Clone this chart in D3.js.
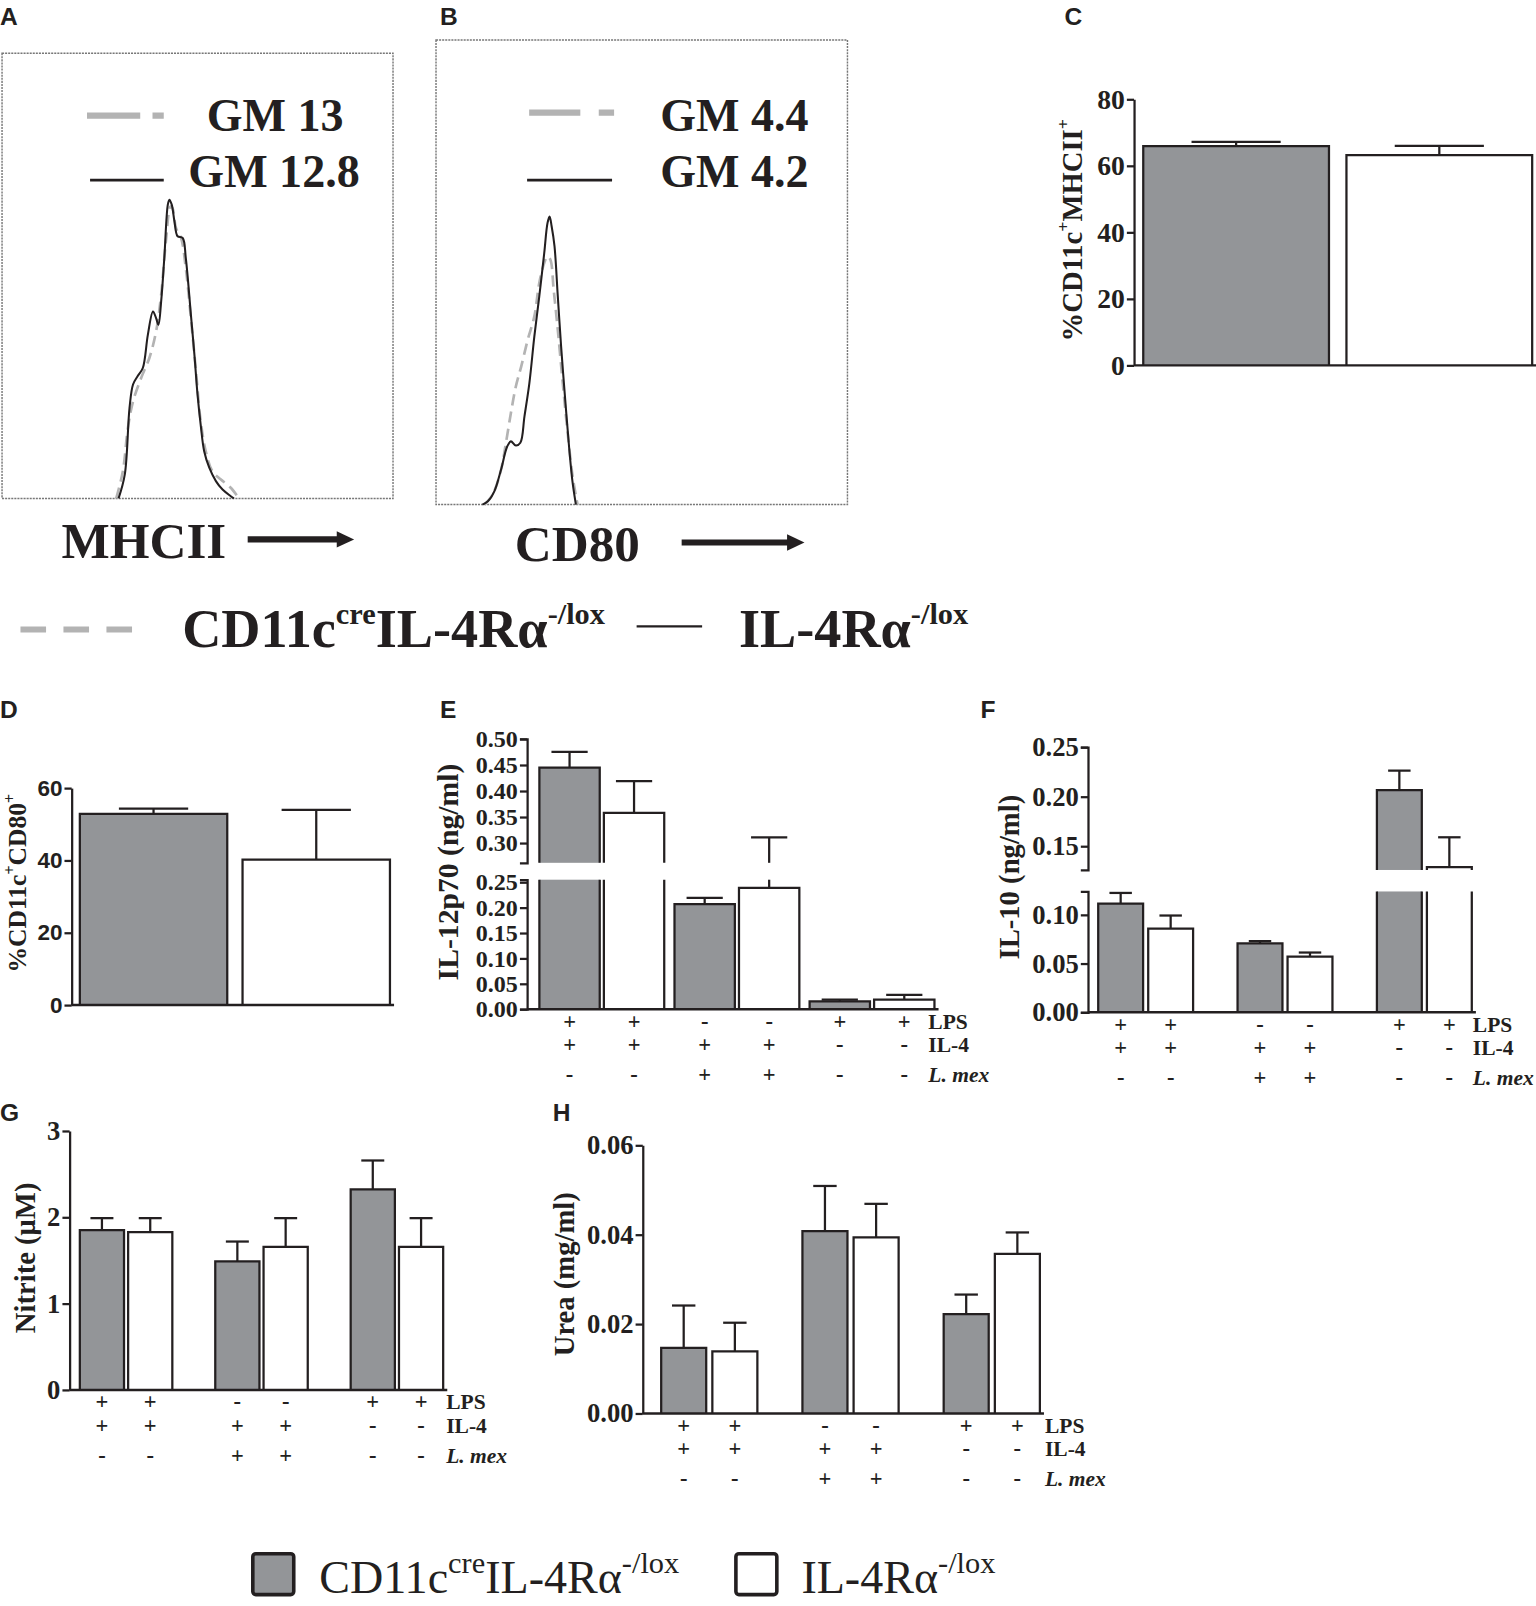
<!DOCTYPE html>
<html>
<head>
<meta charset="utf-8">
<script src="https://cdn.jsdelivr.net/npm/d3@7"></script>
<style>
  body { margin: 0; background: #fff; }
</style>
</head>
<body>
<svg id="fig"></svg>
<script>
// ---------------- data ----------------
// flow histograms: [channel (0-100 of plot width), % of plot height]
const histMHCII_cre = [[29.2,0],[30.9,6.1],[32.2,15.9],[33.5,21.8],[35.6,27.1],[37.7,31.6],[39.4,37.5],[40.7,45.8],[41.9,57.7],[43.1,65.6],[43.6,65.2],[44.5,60.7],[45.8,58.5],[47.0,51.7],[48.3,40.5],[49.6,28.6],[50.8,17.4],[52.1,10.6],[53.8,6.1],[55.9,4.3],[58.5,2.4],[60.6,0]];
const histMHCII_wt = [[29.8,0],[31.4,5.4],[32.6,20.3],[33.5,25.6],[34.7,27.5],[36.0,29.3],[37.3,36.8],[38.6,42.0],[39.4,40.5],[40.0,39.0],[40.7,44.3],[41.5,54.0],[42.4,66.0],[42.8,67.1],[43.4,66.0],[44.1,62.2],[44.9,58.9],[46.2,58.5],[47.0,54.0],[48.3,41.3],[49.2,32.3],[50.0,23.3],[50.8,16.6],[51.7,10.6],[53.0,6.9],[54.7,3.9],[56.4,2.0],[58.5,0.5],[59.3,0]];
const histCD80_cre = [[11.8,0],[13.8,2.2],[15.8,7.5],[17.0,13.3],[18.2,19.7],[19.4,25.4],[20.7,29.7],[22.3,35.5],[23.9,40.5],[25.1,47.7],[26.3,52.0],[27.1,53.4],[27.8,52.7],[28.6,46.2],[29.6,37.6],[30.8,26.2],[32.0,15.4],[33.2,6.1],[34.4,0]];
const histCD80_wt = [[11.3,0],[12.6,0.7],[14.2,2.9],[15.8,7.5],[17.3,12.5],[18.2,13.6],[19.4,12.7],[20.5,13.3],[21.5,19.0],[22.7,26.2],[23.9,36.2],[25.1,44.8],[26.3,54.1],[27.1,60.6],[27.6,62.0],[28.1,59.9],[28.8,55.6],[29.6,44.8],[30.4,34.1],[31.4,22.6],[32.4,11.8],[33.2,4.7],[34.0,0]];
const gmMHCII = ["GM 13", "GM 12.8"];
const gmCD80 = ["GM 4.4", "GM 4.2"];

// bar charts: order = CD11c-cre IL-4Ra-/lox, IL-4Ra-/lox (per condition)
const mhciiMean = [65.9, 63.2];
const mhciiSem  = [1.3, 2.8];
const cd80Mean  = [52.9, 40.2];
const cd80Sem   = [1.4, 13.8];
const il12Mean  = [0.445, 0.358, 0.207, 0.239, 0.0155, 0.019];
const il12Sem   = [0.030, 0.061, 0.012, 0.072, 0.0035, 0.009];
const il10Mean  = [0.1115, 0.0859, 0.0707, 0.0572, 0.2066, 0.129];
const il10Sem   = [0.011, 0.0134, 0.0023, 0.0041, 0.0197, 0.030];
const nitriteMean = [1.851, 1.828, 1.49, 1.657, 2.324, 1.657];
const nitriteSem  = [0.139, 0.162, 0.229, 0.333, 0.334, 0.333];
const ureaMean  = [0.01465, 0.0139, 0.0408, 0.0394, 0.0222, 0.0357];
const ureaSem   = [0.0095, 0.0064, 0.0101, 0.0075, 0.0044, 0.0048];

const lps  = ["+", "+", "-", "-", "+", "+"];
const il4  = ["+", "+", "+", "+", "-", "-"];
const lmex = ["-", "-", "+", "+", "-", "-"];
const condNames = ["LPS", "IL-4", "L. mex"];

// ---------------- setup ----------------
const W = 1536, H = 1606;
const ink = "#231f20", grayFill = "#939598", dashGray = "#b3b3b3";
const serif = "'Liberation Serif', 'Times New Roman', serif";
const sans = "'Liberation Sans', Arial, sans-serif";

const svg = d3.select("#fig").attr("width", W).attr("height", H);
// layout below was measured on a 1500px-wide copy of the figure
const root = svg.append("g").attr("transform", "scale(1.0235)");

// text with superscript parts: parts = [[text, isSup], ...]
function richText(sel, parts, size, supScale, supRise) {
  let raised = false;
  parts.forEach(p => {
    const t = sel.append("tspan").text(p[0]);
    if (p[1]) {
      t.attr("font-size", size * supScale);
      if (!raised) { t.attr("dy", -size * supRise); raised = true; }
    } else if (raised) {
      t.attr("dy", size * supRise); raised = false;
    }
  });
  return sel;
}

function panelLabel(txt, x, y) {
  root.append("text").attr("x", x).attr("y", y).text(txt)
    .attr("font-family", sans).attr("font-weight", "bold").attr("font-size", 24).attr("fill", ink);
}

// ---------------- histograms ----------------
function histPanel(box, cre, wt, gm, leg) {
  const g = root.append("g");
  const x = d3.scaleLinear([0, 100], [box.x0, box.x1]);
  const y = d3.scaleLinear([0, 100], [box.y1, box.y0]);
  g.append("rect").attr("x", box.x0).attr("y", box.y0)
    .attr("width", box.x1 - box.x0).attr("height", box.y1 - box.y0)
    .attr("fill", "none").attr("stroke", "#777").attr("stroke-width", 1.4)
    .attr("stroke-dasharray", "2,1");
  const line = d3.line().x(d => x(d[0])).y(d => y(d[1])).curve(d3.curveCatmullRom.alpha(0.5));
  g.append("path").datum(cre).attr("d", line).attr("fill", "none")
    .attr("stroke", dashGray).attr("stroke-width", 2.6).attr("stroke-dasharray", "11,6");
  g.append("path").datum(wt).attr("d", line).attr("fill", "none")
    .attr("stroke", ink).attr("stroke-width", 2);
  // legend inside box
  g.append("line").attr("x1", leg.dx0).attr("x2", leg.dx1).attr("y1", leg.dy).attr("y2", leg.dy)
    .attr("stroke", dashGray).attr("stroke-width", 6).attr("stroke-dasharray", leg.dash);
  g.append("line").attr("x1", leg.sx0).attr("x2", leg.sx1).attr("y1", leg.sy).attr("y2", leg.sy)
    .attr("stroke", ink).attr("stroke-width", 2.5);
  g.append("text").attr("x", leg.t1x).attr("y", leg.t1y).text(gm[0])
    .attr("font-family", serif).attr("font-weight", "bold").attr("font-size", 45).attr("fill", ink);
  g.append("text").attr("x", leg.t2x).attr("y", leg.t2y).text(gm[1])
    .attr("font-family", serif).attr("font-weight", "bold").attr("font-size", 45).attr("fill", ink);
}

histPanel({x0: 2, x1: 384, y0: 52, y1: 487}, histMHCII_cre, histMHCII_wt, gmMHCII,
  {dx0: 85, dx1: 160, dy: 113, dash: "52,12,11", sx0: 88, sx1: 160, sy: 176,
   t1x: 202, t1y: 128, t2x: 184, t2y: 183});
histPanel({x0: 426, x1: 828, y0: 39, y1: 493}, histCD80_cre, histCD80_wt, gmCD80,
  {dx0: 517, dx1: 600, dy: 110, dash: "50,18,15", sx0: 515, sx1: 598, sy: 176,
   t1x: 645, t1y: 128, t2x: 645, t2y: 183});

// x-axis names with arrows
function axisName(txt, tx, ty, ax0, ax1, ay) {
  root.append("text").attr("x", tx).attr("y", ty).text(txt)
    .attr("font-family", serif).attr("font-weight", "bold").attr("font-size", 50).attr("fill", ink);
  root.append("line").attr("x1", ax0).attr("x2", ax1 - 15).attr("y1", ay).attr("y2", ay)
    .attr("stroke", ink).attr("stroke-width", 6);
  root.append("path").attr("d", `M${ax1 - 17},${ay - 8}L${ax1},${ay}L${ax1 - 17},${ay + 8}Z`).attr("fill", ink);
}
axisName("MHCII", 60, 545, 242, 346, 527);
axisName("CD80", 503, 548, 666, 786, 530);

// histogram legend row
root.append("line").attr("x1", 20).attr("x2", 130).attr("y1", 615).attr("y2", 615)
  .attr("stroke", dashGray).attr("stroke-width", 6).attr("stroke-dasharray", "25,17");
richText(root.append("text").attr("x", 178).attr("y", 632)
  .attr("font-family", serif).attr("font-weight", "bold").attr("font-size", 53).attr("fill", ink),
  [["CD11c", false], ["cre", true], ["IL-4Rα", false], ["-/lox", true]], 53, 0.56, 0.42);
root.append("line").attr("x1", 622).attr("x2", 686).attr("y1", 612).attr("y2", 612)
  .attr("stroke", ink).attr("stroke-width", 2);
richText(root.append("text").attr("x", 722).attr("y", 632)
  .attr("font-family", serif).attr("font-weight", "bold").attr("font-size", 53).attr("fill", ink),
  [["IL-4Rα", false], ["-/lox", true]], 53, 0.56, 0.42);

// ---------------- bar charts ----------------
function barPanel(cfg) {
  const g = root.append("g");
  const n = cfg.means.length;
  const nGroups = Math.max(1, n / 2);
  const outer = d3.scaleBand().domain(d3.range(nGroups)).range(cfg.band).paddingInner(cfg.outerPad);
  const inner = d3.scaleBand().domain(d3.range(2)).range([0, outer.bandwidth()]).paddingInner(cfg.innerPad);
  const bx = i => outer(Math.floor(i / 2)) + inner(i % 2);
  const bw = inner.bandwidth();
  const broken = cfg.segs.length > 1;
  const segs = cfg.segs.map(s => Object.assign({}, s, {scale: d3.scaleLinear(s.domain, s.range)}));
  const font = cfg.font || serif;

  segs.forEach(s => {
    const ax = d3.axisLeft(s.scale).tickValues(s.ticks).tickFormat(s.fmt)
      .tickSize(7).tickSizeOuter(broken ? 7 : 0).tickPadding(2);
    const ga = g.append("g").attr("transform", `translate(${cfg.axisX},0)`).call(ax);
    ga.select(".domain").attr("stroke", ink).attr("stroke-width", 2.2);
    ga.selectAll(".tick line").attr("stroke", ink).attr("stroke-width", 2.2);
    ga.selectAll(".tick text").attr("font-family", font).attr("font-weight", "bold")
      .attr("font-size", cfg.tickFont).attr("fill", ink);
  });

  const y0 = segs[0].scale(0);
  const xEnd = cfg.band[1] + 4;

  for (let i = 0; i < n; i++) {
    const fill = i % 2 === 0 ? grayFill : "#fff";
    const m = cfg.means[i], top = m + cfg.sems[i];
    const cx = bx(i) + bw / 2;
    segs.forEach(s => {
      const lo = s.domain[0], hi = s.domain[1];
      if (m > lo) {
        const yT = s.scale(Math.min(m, hi)), yB = s.scale(lo);
        g.append("rect").attr("x", bx(i)).attr("y", yT).attr("width", bw).attr("height", yB - yT)
          .attr("fill", fill);
        let d = `M${bx(i)},${yB}V${yT}`;
        d += m <= hi ? `H${bx(i) + bw}` : `M${bx(i) + bw},${yT}`;
        d += `V${yB}`;
        g.append("path").attr("d", d).attr("fill", "none").attr("stroke", ink).attr("stroke-width", 2.2);
      }
      if (top > lo && m < hi) {
        const a = s.scale(Math.max(m, lo)), b = s.scale(Math.min(top, hi));
        g.append("line").attr("x1", cx).attr("x2", cx).attr("y1", a).attr("y2", b)
          .attr("stroke", ink).attr("stroke-width", 2.2);
        if (top <= hi) {
          const cw = bw * cfg.capFrac / 2;
          g.append("line").attr("x1", cx - cw).attr("x2", cx + cw).attr("y1", b).attr("y2", b)
            .attr("stroke", ink).attr("stroke-width", 2.2);
        }
      }
    });
  }

  g.append("line").attr("x1", cfg.axisX).attr("x2", xEnd).attr("y1", y0).attr("y2", y0)
    .attr("stroke", ink).attr("stroke-width", 2.4);

  // y title
  const tt = g.append("text").attr("transform", `translate(${cfg.titleX},${cfg.titleY}) rotate(-90)`)
    .attr("text-anchor", "middle").attr("dy", "0.35em")
    .attr("font-family", serif).attr("font-weight", "bold").attr("font-size", cfg.titleFont).attr("fill", ink);
  richText(tt, cfg.title, cfg.titleFont, 0.62, 0.45);

  // treatment table
  if (cfg.conds) {
    const rows = [lps, il4, lmex];
    const off = [19, 42, 71];
    rows.forEach((r, k) => {
      r.forEach((v, i) => {
        g.append("text").attr("x", bx(i) + bw / 2).attr("y", y0 + off[k]).text(v)
          .attr("text-anchor", "middle").attr("font-family", serif).attr("font-weight", "bold")
          .attr("font-size", 22).attr("fill", ink);
      });
      g.append("text").attr("x", cfg.band[1] + cfg.labelDx).attr("y", y0 + off[k]).text(condNames[k])
        .attr("font-family", serif).attr("font-weight", "bold").attr("font-size", 21)
        .attr("font-style", k === 2 ? "italic" : "normal").attr("fill", ink);
    });
  }
}

const f0 = d3.format("d"), f2 = d3.format(".2f");

barPanel({ means: mhciiMean, sems: mhciiSem, band: [1117, 1497], outerPad: 0, innerPad: 0.086,
  axisX: 1108, segs: [{domain: [0, 80], range: [357, 97], ticks: [0, 20, 40, 60, 80], fmt: f0}],
  tickFont: 27, capFrac: 0.48, title: [["%CD11c", false], ["+", true], ["MHCII", false], ["+", true]],
  titleX: 1047, titleY: 225, titleFont: 28, conds: false });

barPanel({ means: cd80Mean, sems: cd80Sem, band: [78, 381], outerPad: 0, innerPad: 0.094,
  axisX: 70, segs: [{domain: [0, 60], range: [982, 770], ticks: [0, 20, 40, 60], fmt: f0}],
  tickFont: 22, font: sans, capFrac: 0.47, title: [["%CD11c", false], ["+", true], ["CD80", false], ["+", true]],
  titleX: 17, titleY: 863, titleFont: 25, conds: false });

barPanel({ means: il12Mean, sems: il12Sem, band: [527, 913], outerPad: 0.076, innerPad: 0.064,
  axisX: 515, segs: [
    {domain: [0, 0.255], range: [986, 859.5], ticks: [0, 0.05, 0.10, 0.15, 0.20, 0.25], fmt: f2},
    {domain: [0.262, 0.50], range: [843, 722], ticks: [0.30, 0.35, 0.40, 0.45, 0.50], fmt: f2}],
  tickFont: 23.5, capFrac: 0.6, title: [["IL-12p70 (ng/ml)", false]],
  titleX: 437, titleY: 852, titleFont: 29, conds: true, labelDx: -6 });

barPanel({ means: il10Mean, sems: il10Sem, band: [1073, 1438], outerPad: 0.319, innerPad: 0.102,
  axisX: 1063, segs: [
    {domain: [0, 0.124], range: [989, 871], ticks: [0, 0.05, 0.10], fmt: f2},
    {domain: [0.126, 0.25], range: [850, 730], ticks: [0.15, 0.20, 0.25], fmt: f2}],
  tickFont: 26, capFrac: 0.5, title: [["IL-10 (ng/ml)", false]],
  titleX: 986, titleY: 857, titleFont: 28, conds: true, labelDx: 1 });

barPanel({ means: nitriteMean, sems: nitriteSem, band: [78, 433], outerPad: 0.317, innerPad: 0.085,
  axisX: 68, segs: [{domain: [0, 3], range: [1358, 1105], ticks: [0, 1, 2, 3], fmt: f0}],
  tickFont: 26, capFrac: 0.52, title: [["Nitrite (μM)", false]],
  titleX: 24, titleY: 1229, titleFont: 28, conds: true, labelDx: 3 });

barPanel({ means: ureaMean, sems: ureaSem, band: [646, 1016], outerPad: 0.319, innerPad: 0.12,
  axisX: 628, segs: [{domain: [0, 0.06], range: [1381, 1119], ticks: [0, 0.02, 0.04, 0.06], fmt: f2}],
  tickFont: 26, capFrac: 0.52, title: [["Urea (mg/ml)", false]],
  titleX: 551, titleY: 1245, titleFont: 28, conds: true, labelDx: 5 });

// panel letters
panelLabel("A", 0, 24);
panelLabel("B", 430, 24);
panelLabel("C", 1040, 24);
panelLabel("D", 0, 702);
panelLabel("E", 430, 702);
panelLabel("F", 958, 702);
panelLabel("G", 0, 1095);
panelLabel("H", 540, 1095);

// ---------------- bottom legend ----------------
function legendBox(x, fill) {
  root.append("rect").attr("x", x).attr("y", 1518).attr("width", 40).attr("height", 40)
    .attr("rx", 3).attr("fill", fill).attr("stroke", ink).attr("stroke-width", 3.5);
}
legendBox(247, grayFill);
richText(root.append("text").attr("x", 312).attr("y", 1556)
  .attr("font-family", serif).attr("font-size", 45).attr("fill", ink),
  [["CD11c", false], ["cre", true], ["IL-4Rα", false], ["-/lox", true]], 45, 0.66, 0.42);
legendBox(719, "#fff");
richText(root.append("text").attr("x", 783).attr("y", 1556)
  .attr("font-family", serif).attr("font-size", 45).attr("fill", ink),
  [["IL-4Rα", false], ["-/lox", true]], 45, 0.66, 0.42);
</script>
</body>
</html>
